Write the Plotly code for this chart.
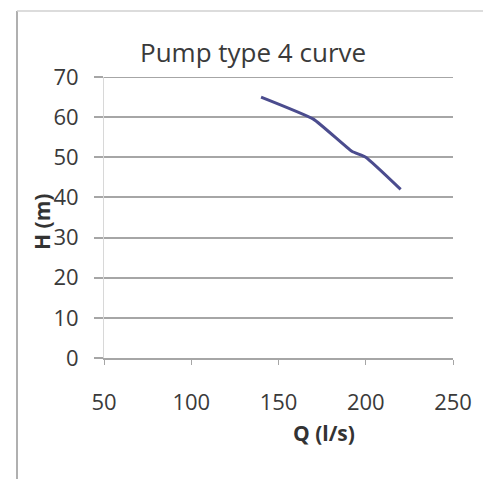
import plotly.graph_objects as go

q_values = [140, 170, 192, 200, 220]
h_values = [65, 59.5, 51.5, 50, 42]
x_ticks = [50, 100, 150, 200, 250]
y_ticks = [0, 10, 20, 30, 40, 50, 60, 70]

FONT = "Open Sans"
TXT = "#3a3a3a"
GRID = "#a6a6a6"

fig = go.Figure()
fig.add_trace(go.Scatter(x=q_values, y=h_values, mode="lines",
                         line=dict(color="#4B4C8E", width=3, shape="spline", smoothing=0.4),
                         showlegend=False))

L, R, T, B = 104, 30, 77, 121
W, H = 483, 479
pw = W - L - R
ph = H - T - B

def px(x):
    return (x - L) / pw

def py(y):
    return (H - B - y) / ph

fig.update_layout(
    width=W, height=H,
    margin=dict(l=L, r=R, t=T, b=B),
    paper_bgcolor="white", plot_bgcolor="white",
    font=dict(family=FONT, color=TXT, size=22),
    xaxis=dict(range=[50, 250], tickvals=x_ticks, showgrid=False, zeroline=False,
               showline=True, linecolor=GRID, linewidth=2,
               ticks="outside", ticklen=5, tickcolor=GRID, tickwidth=1,
               ticklabelstandoff=19, tickfont=dict(size=22, color=TXT)),
    yaxis=dict(range=[0, 70], tickvals=y_ticks, showgrid=True, gridcolor=GRID, gridwidth=2,
               zeroline=False, showline=True, linecolor="#d8d8d8", linewidth=1,
               ticks="outside", ticklen=9, tickcolor=GRID, tickwidth=2,
               ticklabelstandoff=11, tickfont=dict(size=22, color=TXT)),
    shapes=[
        dict(type="line", xref="paper", yref="y", x0=0, x1=1, y0=70, y1=70,
             line=dict(color=GRID, width=2), layer="below"),
        dict(type="line", xref="paper", yref="paper", x0=px(17), x1=px(17), y0=py(11), y1=py(479),
             line=dict(color="#b0b0b0", width=2)),
        dict(type="line", xref="paper", yref="paper", x0=px(17), x1=px(483), y0=py(11), y1=py(11),
             line=dict(color="#d0d0d0", width=1.5)),
    ],
    annotations=[
        dict(text="Pump type 4 curve", xref="paper", yref="paper", x=px(253), y=py(52),
             showarrow=False, xanchor="center", yanchor="middle",
             font=dict(family=FONT, size=26, color=TXT)),
        dict(text="Q (l/s)", xref="paper", yref="paper", x=px(324), y=py(433),
             showarrow=False, xanchor="center", yanchor="middle",
             font=dict(family=FONT, size=21, color="#333333", weight="bold")),
        dict(text="H (m)", xref="paper", yref="paper", x=px(42), y=py(222),
             showarrow=False, xanchor="center", yanchor="middle", textangle=-90,
             font=dict(family=FONT, size=21, color="#333333", weight="bold")),
    ],
)

fig.write_html("out.html")
